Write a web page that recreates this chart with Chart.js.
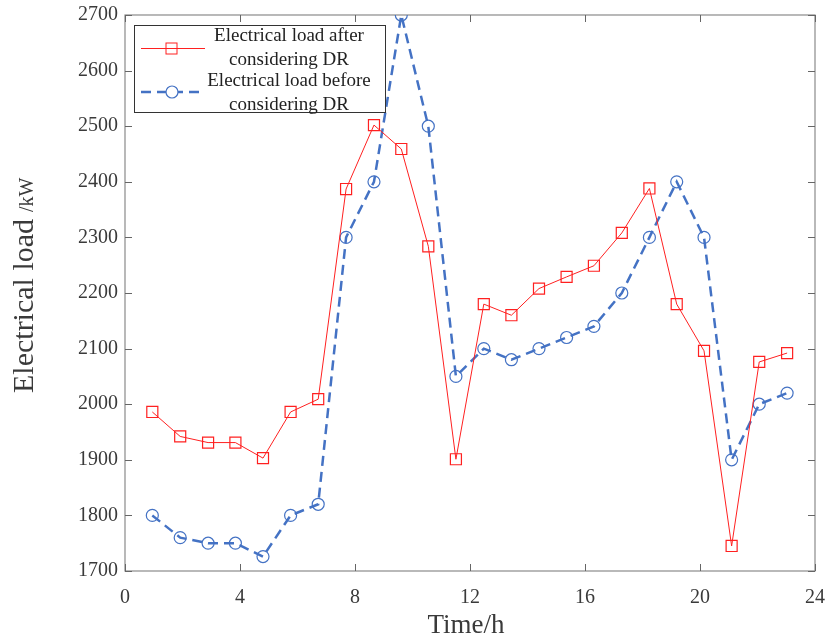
<!DOCTYPE html>
<html>
<head>
<meta charset="utf-8">
<script src="https://cdn.jsdelivr.net/npm/chart.js@4"></script>
<style>
  html, body { margin: 0; padding: 0; background: #fff; }
  #wrap { width: 830px; height: 641px; }
</style>
</head>
<body>
<div id="wrap"><canvas id="chart" width="830" height="641"></canvas></div>
<script>
'use strict';

// time of each sample (h)
const hours = [0.95, 1.92, 2.89, 3.84, 4.80, 5.76, 6.72, 7.69, 8.66, 9.61, 10.55, 11.51,
               12.48, 13.44, 14.40, 15.36, 16.31, 17.28, 18.24, 19.19, 20.14, 21.10, 22.06, 23.03];

// electrical load after considering DR (kW)
const loadAfterDR = [1986, 1942, 1931, 1931, 1903, 1986, 2009, 2387, 2502, 2459, 2284, 1901,
                     2180, 2160, 2208, 2229, 2249, 2308, 2388, 2180, 2096, 1745, 2076, 2092];

// electrical load before considering DR (kW)
const loadBeforeDR = [1800, 1760, 1750, 1750, 1726, 1800, 1820, 2300, 2400, 2700, 2500, 2050,
                      2100, 2080, 2100, 2120, 2140, 2200, 2300, 2400, 2300, 1900, 2000, 2020];

const xTicks = [0, 4, 8, 12, 16, 20, 24];
const yTicks = [1700, 1800, 1900, 2000, 2100, 2200, 2300, 2400, 2500, 2600, 2700];

const legendLabels = [
  ['Electrical load after', 'considering DR'],
  ['Electrical load before', 'considering DR'],
];

const RED = '#ff2020';
const BLUE = '#4472c4';
const SERIF = '"Liberation Serif", "Times New Roman", serif';
const TEXT = '#3a3a3a';

const toPoints = vals => vals.map((v, i) => ({ x: hours[i], y: v }));

// frame + inward tick marks, like the MATLAB axes box
const framePlugin = {
  id: 'frame',
  beforeDatasetsDraw(chart) {
    const { ctx, chartArea: a, scales } = chart;
    ctx.save();
    ctx.strokeStyle = '#8a8a8a';
    ctx.lineWidth = 1.2;
    ctx.strokeRect(a.left, a.top, a.right - a.left, a.bottom - a.top);
    ctx.strokeStyle = '#666';
    ctx.lineWidth = 1;
    const len = 7;
    ctx.beginPath();
    xTicks.forEach(t => {
      const px = Math.round(scales.x.getPixelForValue(t)) + 0.5;
      ctx.moveTo(px, a.bottom); ctx.lineTo(px, a.bottom - len);
      ctx.moveTo(px, a.top); ctx.lineTo(px, a.top + len);
    });
    yTicks.forEach(t => {
      const py = Math.round(scales.y.getPixelForValue(t)) + 0.5;
      ctx.moveTo(a.left, py); ctx.lineTo(a.left + len, py);
      ctx.moveTo(a.right, py); ctx.lineTo(a.right - len, py);
    });
    ctx.stroke();
    ctx.restore();
  },
};

// axis titles (y title mixes two font sizes)
const titlesPlugin = {
  id: 'titles',
  afterDraw(chart) {
    const { ctx } = chart;
    ctx.save();
    ctx.fillStyle = TEXT;
    ctx.textBaseline = 'alphabetic';

    ctx.font = '27px ' + SERIF;
    ctx.textAlign = 'center';
    ctx.fillText('Time/h', 466, 633);

    ctx.translate(33, 393);
    ctx.rotate(-Math.PI / 2);
    ctx.textAlign = 'left';
    ctx.font = '30px ' + SERIF;
    ctx.fillText('Electrical load', 0, 0);
    const w = ctx.measureText('Electrical load').width;
    ctx.font = '20px ' + SERIF;
    ctx.fillText('/kW', w + 7, 0);
    ctx.restore();
  },
};

// boxed legend with two-line labels
const legendPlugin = {
  id: 'boxLegend',
  afterDraw(chart) {
    const { ctx } = chart;
    const box = { x: 134.5, y: 25.5, w: 251, h: 87 };
    ctx.save();
    ctx.fillStyle = '#fff';
    ctx.fillRect(box.x, box.y, box.w, box.h);
    ctx.strokeStyle = '#333';
    ctx.lineWidth = 1;
    ctx.strokeRect(box.x, box.y, box.w, box.h);

    // red sample
    ctx.strokeStyle = RED;
    ctx.lineWidth = 1;
    ctx.beginPath(); ctx.moveTo(141, 48.5); ctx.lineTo(205, 48.5); ctx.stroke();
    ctx.strokeRect(166, 43, 11, 11);

    // blue sample
    ctx.strokeStyle = BLUE;
    ctx.lineWidth = 2.5;
    ctx.setLineDash([10, 6]);
    ctx.beginPath(); ctx.moveTo(141, 92); ctx.lineTo(205, 92); ctx.stroke();
    ctx.setLineDash([]);
    ctx.lineWidth = 1.2;
    ctx.fillStyle = '#fff';
    ctx.beginPath(); ctx.arc(172, 92, 6, 0, Math.PI * 2); ctx.fill(); ctx.stroke();

    ctx.fillStyle = '#222';
    ctx.font = '19px ' + SERIF;
    ctx.textAlign = 'center';
    ctx.textBaseline = 'middle';
    const rows = [36, 60, 81, 105];
    let k = 0;
    legendLabels.forEach(lines => lines.forEach(line => {
      ctx.fillText(line, 289, rows[k++]);
    }));
    ctx.restore();
  },
};

const tickFont = { family: SERIF, size: 20 };

new Chart(document.getElementById('chart'), {
  type: 'line',
  data: {
    datasets: [
      {
        label: legendLabels[0].join(' '),
        data: toPoints(loadAfterDR),
        borderColor: RED,
        borderWidth: 1,
        pointStyle: 'rect',
        pointRadius: 7.8,
        pointBorderColor: RED,
        pointBackgroundColor: 'rgba(0,0,0,0)',
        pointBorderWidth: 1.2,
        tension: 0,
      },
      {
        label: legendLabels[1].join(' '),
        data: toPoints(loadBeforeDR),
        borderColor: BLUE,
        borderWidth: 2.5,
        borderDash: [10, 6],
        pointStyle: 'circle',
        pointRadius: 6,
        pointBorderColor: BLUE,
        pointBackgroundColor: 'rgba(0,0,0,0)',
        pointBorderWidth: 1.2,
        tension: 0,
      },
    ],
  },
  options: {
    responsive: false,
    animation: false,
    devicePixelRatio: 1,
    layout: { padding: { left: 0, top: 15, right: 15, bottom: 0 } },
    plugins: {
      legend: { display: false },
      tooltip: { enabled: false },
    },
    scales: {
      x: {
        type: 'linear',
        min: 0,
        max: 24,
        afterBuildTicks: s => { s.ticks = xTicks.map(v => ({ value: v })); },
        afterFit: s => { s.height = 70; s.paddingLeft = 0; s.paddingRight = 0; },
        grid: { display: false, drawTicks: false },
        border: { display: false },
        ticks: { font: tickFont, color: TEXT, padding: 15, maxRotation: 0, callback: v => String(v) },
      },
      y: {
        type: 'linear',
        min: 1700,
        max: 2700,
        afterBuildTicks: s => { s.ticks = yTicks.map(v => ({ value: v })); },
        afterFit: s => { s.width = 125; s.paddingTop = 0; s.paddingBottom = 0; },
        grid: { display: false, drawTicks: false },
        border: { display: false },
        ticks: { font: tickFont, color: TEXT, padding: 7, callback: v => String(v) },
      },
    },
  },
  plugins: [framePlugin, titlesPlugin, legendPlugin],
});
</script>
</body>
</html>
